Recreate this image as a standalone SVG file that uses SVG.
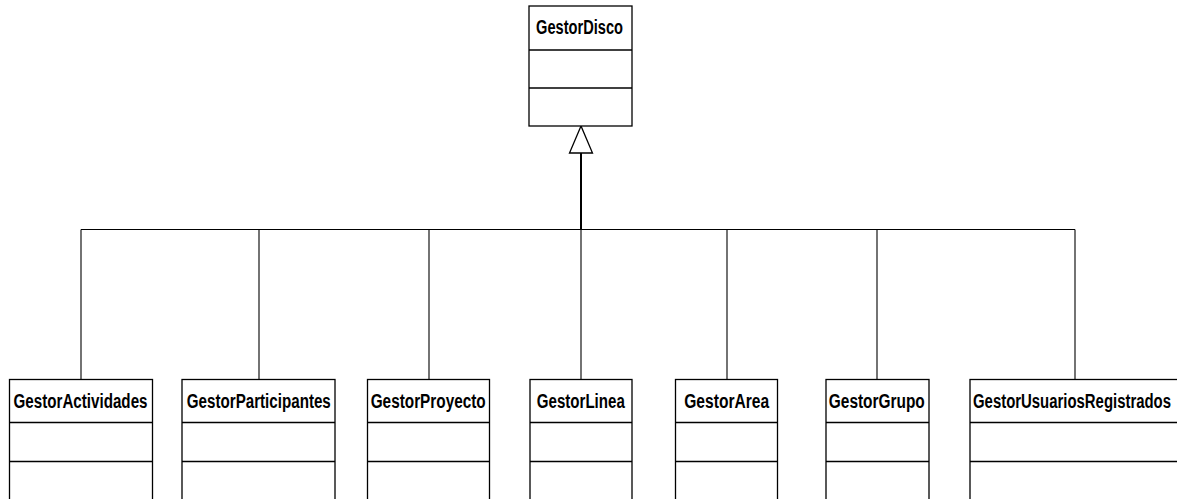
<svg xmlns="http://www.w3.org/2000/svg" width="1177" height="499" viewBox="0 0 1177 499">
<style>
.box{fill:#fff;stroke:#000;stroke-width:1.3}
.div{stroke:#000;stroke-width:1.3}
.t{font-family:"Liberation Sans",Arial,sans-serif;font-weight:bold;font-size:19.5px;fill:#000;text-anchor:middle}
.c{stroke:#000;stroke-width:1.1;fill:none}
</style>
<rect width="1177" height="499" fill="#fff"/>
<g id="connectors">
<line class="c" x1="81" y1="229.5" x2="1075" y2="229.5"/>
<line class="c" x1="81" y1="229.5" x2="81" y2="379"/>
<line class="c" x1="259" y1="229.5" x2="259" y2="379"/>
<line class="c" x1="429" y1="229.5" x2="429" y2="379"/>
<line class="c" x1="581" y1="229.5" x2="581" y2="379"/>
<line class="c" x1="727" y1="229.5" x2="727" y2="379"/>
<line class="c" x1="877" y1="229.5" x2="877" y2="379"/>
<line class="c" x1="1075" y1="229.5" x2="1075" y2="379"/>
<line x1="581" y1="153" x2="581" y2="229.5" stroke="#000" stroke-width="2"/>
<polygon points="581,126 569.5,153 592.5,153" fill="#fff" stroke="#000" stroke-width="1.3"/>
</g>
<g id="GestorDisco">
<rect class="box" x="529" y="6" width="103" height="120"/>
<line class="div" x1="529" y1="50" x2="632" y2="50"/>
<line class="div" x1="529" y1="88" x2="632" y2="88"/>
<text class="t" x="579.5" y="34" textLength="87" lengthAdjust="spacingAndGlyphs">GestorDisco</text>
</g>
<g id="GestorActividades">
<rect class="box" x="9.5" y="379.5" width="143" height="130"/>
<line class="div" x1="9.5" y1="422.5" x2="152.5" y2="422.5"/>
<line class="div" x1="9.5" y1="461.5" x2="152.5" y2="461.5"/>
<text class="t" x="80.5" y="408" textLength="134" lengthAdjust="spacingAndGlyphs">GestorActividades</text>
</g>
<g id="GestorParticipantes">
<rect class="box" x="182" y="379.5" width="153" height="130"/>
<line class="div" x1="182" y1="422.5" x2="335" y2="422.5"/>
<line class="div" x1="182" y1="461.5" x2="335" y2="461.5"/>
<text class="t" x="258.8" y="408" textLength="144" lengthAdjust="spacingAndGlyphs">GestorParticipantes</text>
</g>
<g id="GestorProyecto">
<rect class="box" x="367.5" y="379.5" width="122" height="130"/>
<line class="div" x1="367.5" y1="422.5" x2="489.5" y2="422.5"/>
<line class="div" x1="367.5" y1="461.5" x2="489.5" y2="461.5"/>
<text class="t" x="428.2" y="408" textLength="115" lengthAdjust="spacingAndGlyphs">GestorProyecto</text>
</g>
<g id="GestorLinea">
<rect class="box" x="530" y="379.5" width="102" height="130"/>
<line class="div" x1="530" y1="422.5" x2="632" y2="422.5"/>
<line class="div" x1="530" y1="461.5" x2="632" y2="461.5"/>
<text class="t" x="580.8" y="408" textLength="88" lengthAdjust="spacingAndGlyphs">GestorLinea</text>
</g>
<g id="GestorArea">
<rect class="box" x="675.5" y="379.5" width="102" height="130"/>
<line class="div" x1="675.5" y1="422.5" x2="777.5" y2="422.5"/>
<line class="div" x1="675.5" y1="461.5" x2="777.5" y2="461.5"/>
<text class="t" x="726.7" y="408" textLength="85" lengthAdjust="spacingAndGlyphs">GestorArea</text>
</g>
<g id="GestorGrupo">
<rect class="box" x="826" y="379.5" width="103" height="130"/>
<line class="div" x1="826" y1="422.5" x2="929" y2="422.5"/>
<line class="div" x1="826" y1="461.5" x2="929" y2="461.5"/>
<text class="t" x="876.8" y="408" textLength="96" lengthAdjust="spacingAndGlyphs">GestorGrupo</text>
</g>
<g id="GestorUsuariosRegistrados">
<rect class="box" x="970" y="379.5" width="210" height="130"/>
<line class="div" x1="970" y1="422.5" x2="1180" y2="422.5"/>
<line class="div" x1="970" y1="461.5" x2="1180" y2="461.5"/>
<text class="t" x="1072" y="408" textLength="198" lengthAdjust="spacingAndGlyphs">GestorUsuariosRegistrados</text>
</g>
</svg>
